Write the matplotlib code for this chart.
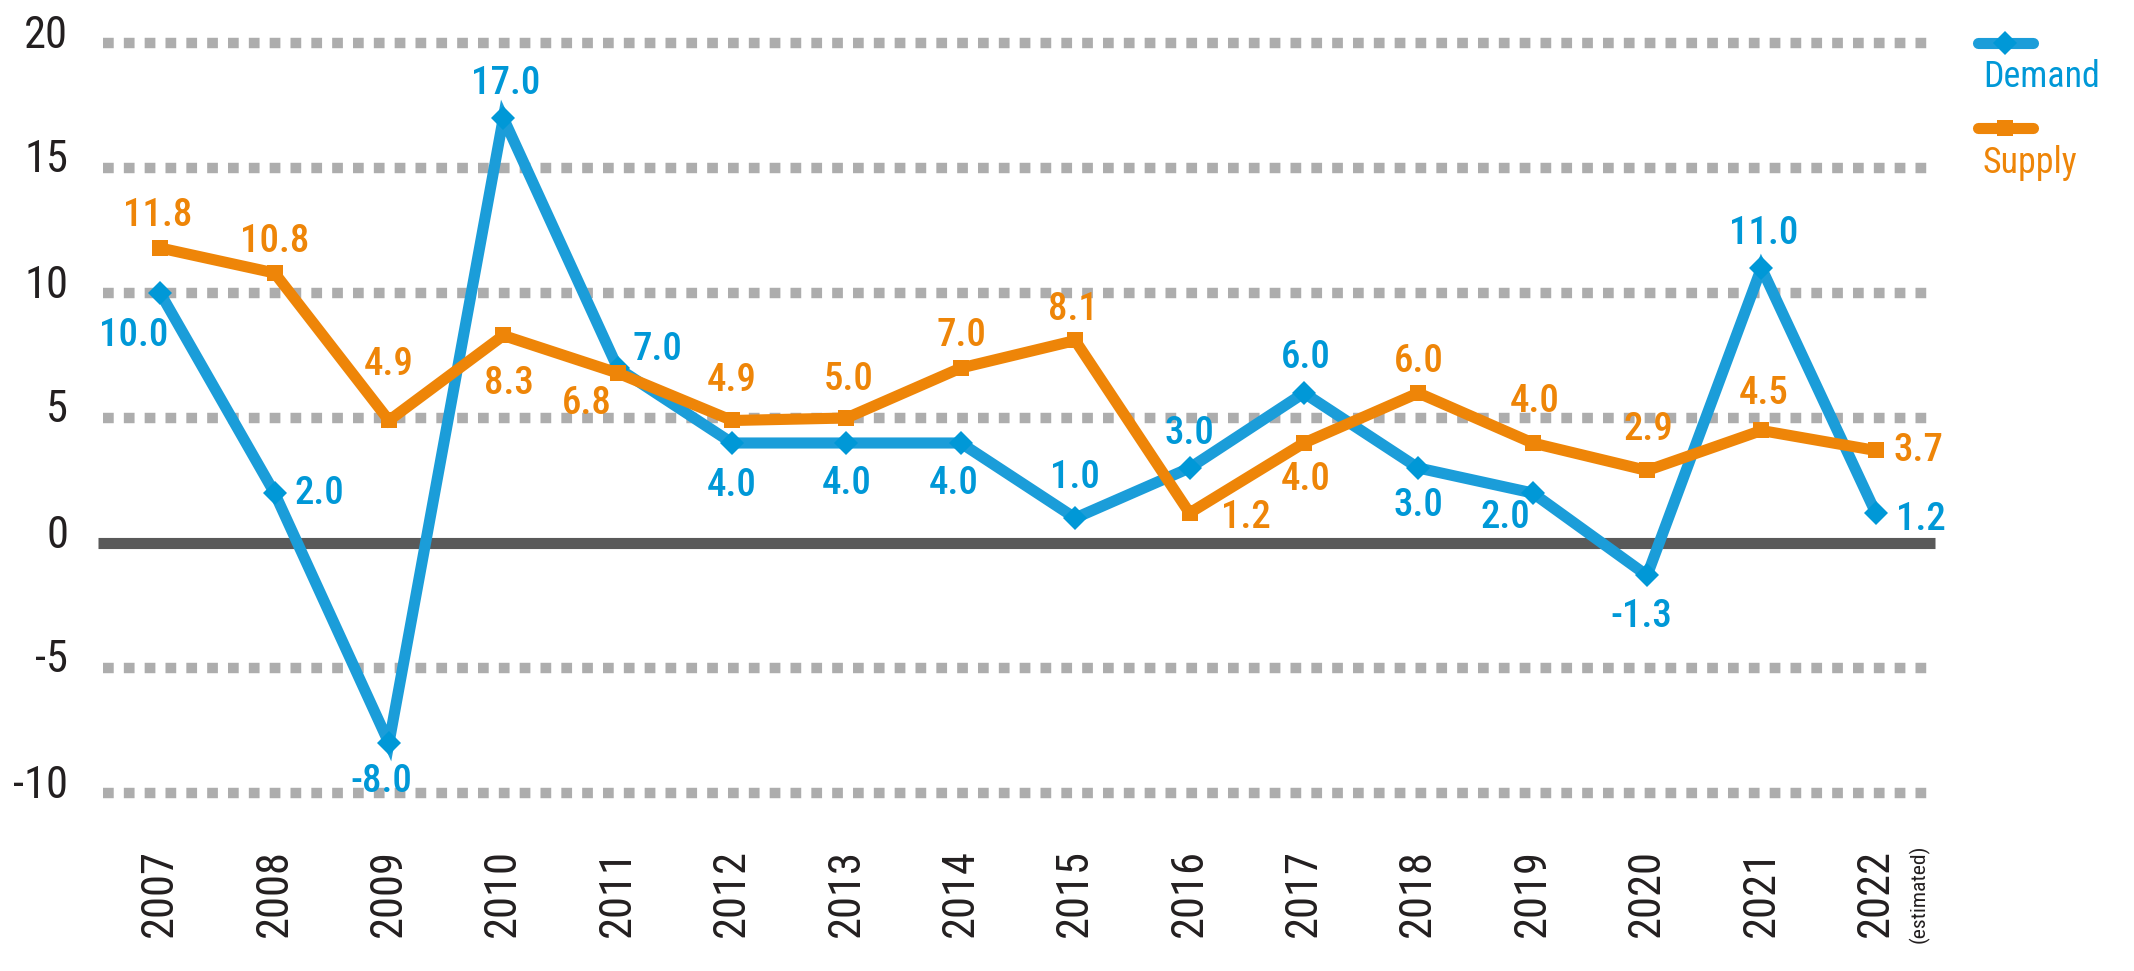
import matplotlib
matplotlib.use('Agg')
import matplotlib.pyplot as plt
from matplotlib import font_manager
from matplotlib.lines import Line2D
from matplotlib.transforms import ScaledTranslation

years = ['2007', '2008', '2009', '2010', '2011', '2012', '2013', '2014',
         '2015', '2016', '2017', '2018', '2019', '2020', '2021', '2022']
demand = [10.0, 2.0, -8.0, 17.0, 7.0, 4.0, 4.0, 4.0, 1.0, 3.0, 6.0, 3.0, 2.0, -1.3, 11.0, 1.2]
supply = [11.8, 10.8, 4.9, 8.3, 6.8, 4.9, 5.0, 7.0, 8.1, 1.2, 4.0, 6.0, 4.0, 2.9, 4.5, 3.7]
y_ticks = [-10, -5, 0, 5, 10, 15, 20]
series_names = ['Demand', 'Supply']
year_note = '(estimated)'

# where each value label sits relative to its point, pixels (right, down)
demand_offsets = [(-26, 43), (45, 0), (-8, 38), (2, -34), (40, -18), (0, 43), (0, 40), (-7, 40),
                  (0, -41), (0, -35), (2, -35), (0, 37), (-27, 25), (-6, 41), (2, -35), (45, 7)]
supply_offsets = [(-3, -33), (0, -32), (0, -56), (6, 48), (-31, 30), (0, -40), (2, -38), (1, -33),
                  (-2, -31), (56, 5), (2, 36), (0, -31), (2, -41), (1, -41), (2, -37), (43, 0)]

BLUE = '#1b9dd9'
BLUE_TXT = '#0098d7'
ORANGE = '#ee8508'
GRID = '#adadad'
ZERO = '#595959'
INK = '#231f20'

installed = {f.name for f in font_manager.fontManager.ttflist}
if 'Roboto Condensed' in installed:
    FONT, k = 'Roboto Condensed', 1.0
else:
    FONT, k = 'Roboto', 0.9
plt.rcParams['font.family'] = [FONT, 'DejaVu Sans']

W, H = 2134, 971
fig = plt.figure(figsize=(W / 100, H / 100), dpi=100)
ax = fig.add_axes([103 / W, 1 - 813 / H, (1933 - 103) / W, (813 - 23) / H])
x = list(range(len(years)))
ax.set_xlim(-0.5, len(years) - 0.5)
ax.set_ylim(-10.8, 20.8)

# grid: dotted grey, solid dark zero line
for v in y_ticks:
    if v == 0:
        ax.axhline(0, xmin=-0.003, xmax=1.001, color=ZERO, lw=8,
                   solid_capstyle='butt', zorder=1, clip_on=False)
    else:
        ax.axhline(v, color=GRID, lw=7.5, ls=(0, (1.03, 0.97)),
                   dash_capstyle='butt', zorder=1)

ax.plot(x, demand, color=BLUE, lw=8, marker='D', ms=12, mfc=BLUE_TXT,
        mec=BLUE_TXT, mew=0, solid_joinstyle='miter', zorder=3, clip_on=False)
ax.plot(x, supply, color=ORANGE, lw=8, marker='s', ms=11.5, mew=0,
        solid_joinstyle='miter', zorder=4, clip_on=False)

for vals, offs, col in [(demand, demand_offsets, BLUE_TXT), (supply, supply_offsets, ORANGE)]:
    for xi, v, (dx, dy) in zip(x, vals, offs):
        ax.annotate(f'{v:.1f}', (xi, v), xytext=(dx, -dy), textcoords='offset pixels',
                    ha='center', va='center', color=col, fontsize=26 * k / 0.9 if k < 1 else 28,
                    fontweight='medium', zorder=5)

ax.set_xticks(x, years)
ax.tick_params(axis='x', length=0, pad=26, labelsize=32 * k, labelcolor=INK, labelrotation=90)
ax.set_yticks(y_ticks, [str(v) for v in y_ticks])
ax.tick_params(axis='y', length=0, pad=25, labelsize=32 * k, labelcolor=INK)
for lab in ax.get_yticklabels():
    lab.set_transform(lab.get_transform() + ScaledTranslation(0, 0.12, fig.dpi_scale_trans))

ax.annotate(year_note, (x[-1], 0), xycoords=('data', 'axes fraction'), xytext=(43, -31),
            textcoords='offset pixels', rotation=90, ha='center', va='top',
            fontsize=18 * 0.86, color=INK)

for s in ax.spines.values():
    s.set_visible(False)

# legend: line sample above each name
for i, (name, col, mk, ms) in enumerate([(series_names[0], BLUE, 'D', 12),
                                         (series_names[1], ORANGE, 's', 11.5)]):
    ly = 1 - (43 + 85 * i) / H
    fig.add_artist(Line2D([1978 / W, 2033 / W], [ly, ly], transform=fig.transFigure,
                          color=col, lw=8, solid_capstyle='round'))
    fig.add_artist(Line2D([2005 / W], [ly], transform=fig.transFigure, ls='none',
                          marker=mk, ms=ms, mew=0, color=BLUE_TXT if i == 0 else ORANGE))
    fig.text(1983 / W, 1 - (77 + 86 * i) / H, name, color=BLUE_TXT if i == 0 else ORANGE,
             fontsize=30 * 0.86, ha='left', va='center')

fig.savefig('out.png', dpi=100)
